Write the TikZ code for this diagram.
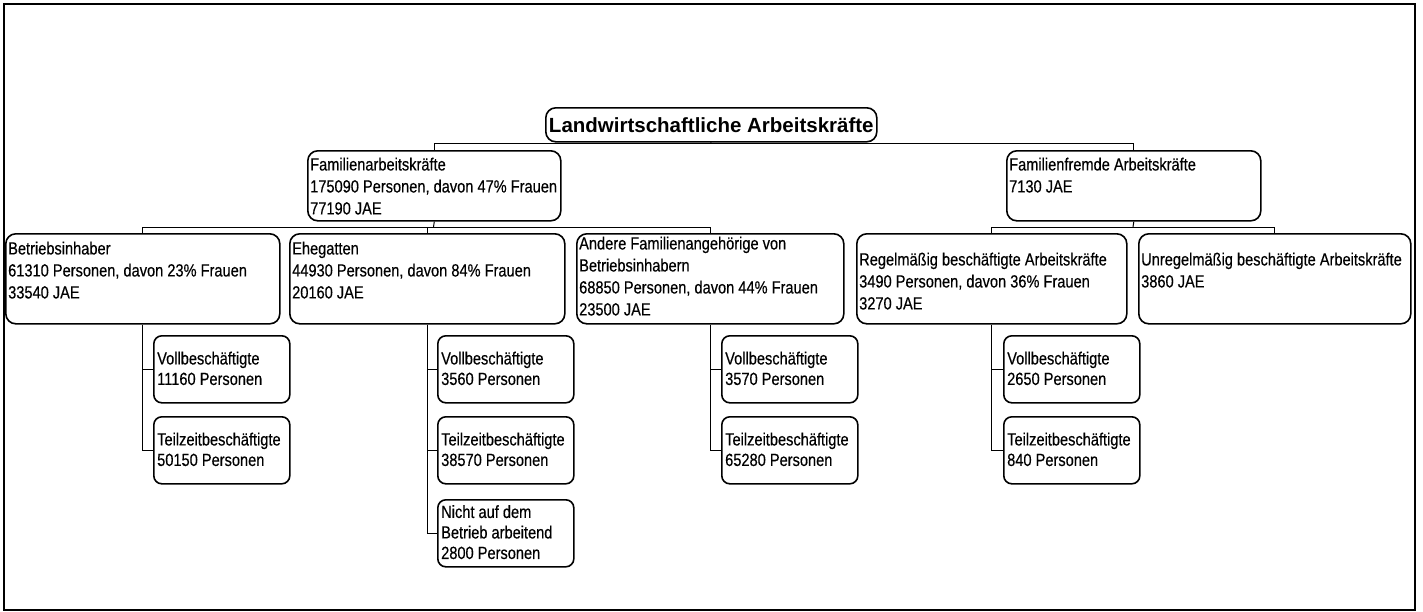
\documentclass[tikz,border=0pt]{standalone}
\usepackage{fontspec}
\setmainfont{Liberation Sans}[FakeStretch=0.83,FakeBold=0.4]
\newfontfamily\titlefont{Liberation Sans}
\begin{document}
\begin{tikzpicture}[x=1pt,y=-1pt,
  box/.style={draw, line width=1.6pt, rounded corners=10pt, inner sep=0pt, anchor=north west},
  sbox/.style={draw, line width=1.6pt, rounded corners=8pt, inner sep=0pt, anchor=north west, minimum width=136pt, minimum height=67pt},
  txt/.style={anchor=north west, inner sep=0pt, align=left, font=\fontsize{17.6}{22}\selectfont},
  stxt/.style={anchor=north west, inner sep=0pt, align=left, font=\fontsize{17.6}{20.5}\selectfont},
  conn/.style={draw, line width=1pt}]
\useasboundingbox (0,0) rectangle (1423,611);
\draw[line width=2pt] (4,4) rectangle (1415,609.5);

% root
\node[box, minimum width=331pt, minimum height=34pt, font=\titlefont\bfseries\fontsize{20.5}{24}\selectfont] (root) at (545,107) {Landwirtschaftliche Arbeitskräfte};

% level 1
\node[box, minimum width=253pt, minimum height=70pt] (fam) at (307,150) {};
\node[txt] (famt) at (310,157.5) {Familienarbeitskräfte\\175090 Personen, davon 47\% Frauen\\77190 JAE};
\node[box, minimum width=254pt, minimum height=70pt] (fremd) at (1006,150) {};
\node[txt] (fremdt) at (1009,157.5) {Familienfremde Arbeitskräfte\\7130 JAE};

% level 2
\node[box, minimum width=274pt, minimum height=90pt] (bi) at (5,233) {};
\node[txt] (bit) at (8,241.5) {Betriebsinhaber\\61310 Personen, davon 23\% Frauen\\33540 JAE};
\node[box, minimum width=275pt, minimum height=90pt] (eh) at (289,233) {};
\node[txt] (eht) at (292,241.5) {Ehegatten\\44930 Personen, davon 84\% Frauen\\20160 JAE};
\node[box, minimum width=267pt, minimum height=90pt] (an) at (576,233) {};
\node[txt] (ant) at (579,236.5) {Andere Familienangehörige von\\Betriebsinhabern\\68850 Personen, davon 44\% Frauen\\23500 JAE};
\node[box, minimum width=270pt, minimum height=90pt] (re) at (856,233) {};
\node[txt] (ret) at (859,252.5) {Regelmäßig beschäftigte Arbeitskräfte\\3490 Personen, davon 36\% Frauen\\3270 JAE};
\node[box, minimum width=272pt, minimum height=90pt] (un) at (1138,233) {};
\node[txt] (unt) at (1141,252.5) {Unregelmäßig beschäftigte Arbeitskräfte\\3860 JAE};

% level 3
\node[sbox] (bi1) at (153,335) {};
\node[stxt] (bi1t) at (157,351.5) {Vollbeschäftigte\\11160 Personen};
\node[sbox] (bi2) at (153,416) {};
\node[stxt] (bi2t) at (157,432.5) {Teilzeitbeschäftigte\\50150 Personen};

\node[sbox] (eh1) at (437,335) {};
\node[stxt] (eh1t) at (441,351.5) {Vollbeschäftigte\\3560 Personen};
\node[sbox] (eh2) at (437,416) {};
\node[stxt] (eh2t) at (441,432.5) {Teilzeitbeschäftigte\\38570 Personen};
\node[sbox] (eh3) at (437,499) {};
\node[stxt] (eh3t) at (441,505) {Nicht auf dem\\Betrieb arbeitend\\2800 Personen};

\node[sbox] (an1) at (721,335) {};
\node[stxt] (an1t) at (725,351.5) {Vollbeschäftigte\\3570 Personen};
\node[sbox] (an2) at (721,416) {};
\node[stxt] (an2t) at (725,432.5) {Teilzeitbeschäftigte\\65280 Personen};

\node[sbox] (re1) at (1003,335) {};
\node[stxt] (re1t) at (1007,351.5) {Vollbeschäftigte\\2650 Personen};
\node[sbox] (re2) at (1003,416) {};
\node[stxt] (re2t) at (1007,432.5) {Teilzeitbeschäftigte\\840 Personen};

% connectors
\coordinate (j1) at (710.5,143);
\coordinate (j2) at (433.5,227);
\coordinate (j3) at (1133,227);
\draw[conn] (root.south) -- (j1);
\draw[conn] (j1) -| (fam.north);
\draw[conn] (j1) -| (fremd.north);
\draw[conn] (fam.south) -- (j2);
\draw[conn] (j2) -| (bi.north);
\draw[conn] (j2) -| (eh.north);
\draw[conn] (j2) -| (an.north);
\draw[conn] (fremd.south) -- (j3);
\draw[conn] (j3) -| (re.north);
\draw[conn] (j3) -| (un.north);
\draw[conn] (bi.south) |- (bi1.west);
\draw[conn] (bi.south) |- (bi2.west);
\draw[conn] (eh.south) |- (eh1.west);
\draw[conn] (eh.south) |- (eh2.west);
\draw[conn] (eh.south) |- (eh3.west);
\draw[conn] (an.south) |- (an1.west);
\draw[conn] (an.south) |- (an2.west);
\draw[conn] (re.south) |- (re1.west);
\draw[conn] (re.south) |- (re2.west);
\end{tikzpicture}
\end{document}
